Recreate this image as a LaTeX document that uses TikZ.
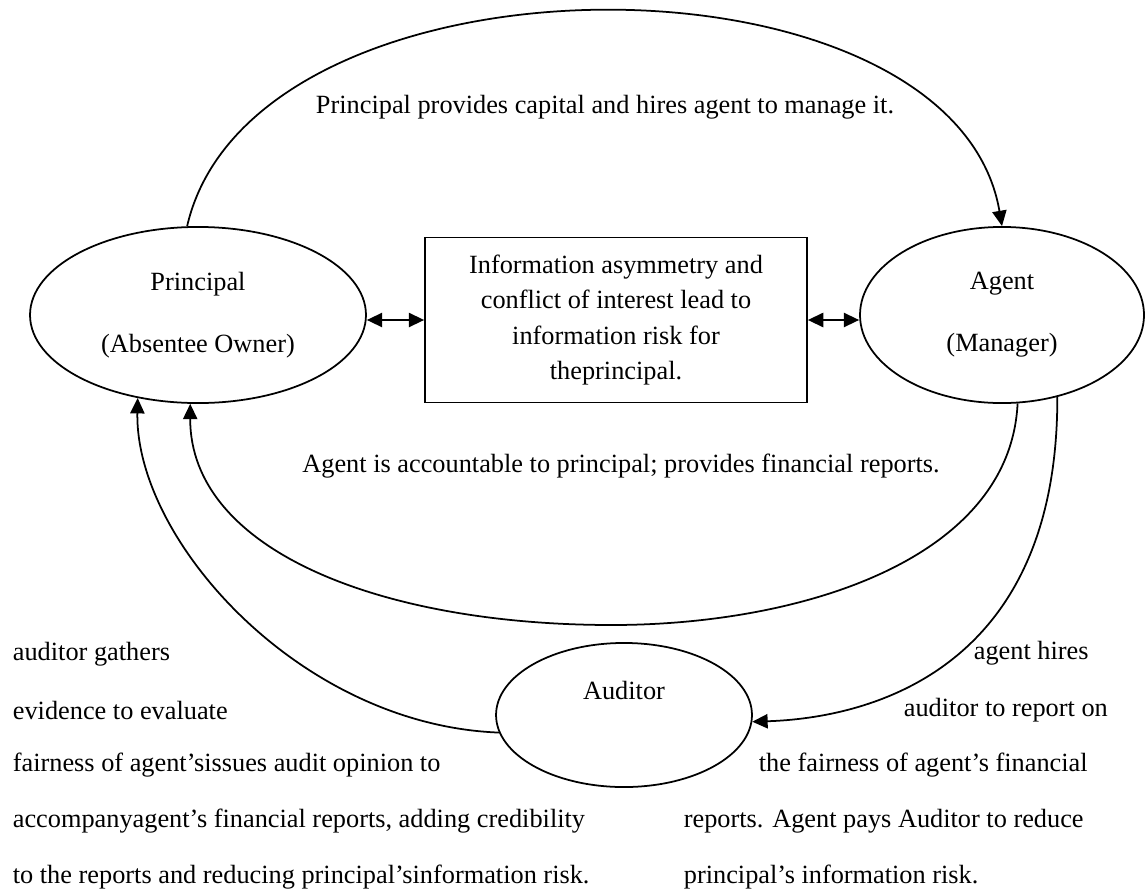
\documentclass[tikz,border=0pt]{standalone}
\usepackage{fontspec}
\setmainfont{Liberation Serif}
\usetikzlibrary{shapes.geometric,arrows.meta}

\begin{document}
\begin{tikzpicture}[x=0.456pt,y=-0.456pt,line width=0.8pt,
		txt/.style={font=\fontsize{12}{14.4}\selectfont,inner sep=0pt},
		oval/.style={draw,ellipse,txt,align=center,minimum height=80.3pt},
		onearrow/.style={-{Triangle[length=7pt,width=6.5pt]}},
		twoarrow/.style={{Triangle[length=7pt,width=6.5pt]}-{Triangle[length=7pt,width=6.5pt]}}]
	\useasboundingbox (0,0) rectangle (1145,895);
	\node[oval,minimum width=153.2pt] (prin) at (198,315) {Principal\\[14pt](Absentee Owner)};
	\node[oval,minimum width=129.5pt] (agent) at (1002,315) {Agent\\[14pt](Manager)};
	\node[oval,minimum width=116.7pt,minimum height=65.7pt] (aud) at (624,715) {};
	\node[txt] (audlbl) at (624,690) {Auditor};
	\node[draw,txt,align=center,minimum width=174.2pt,minimum height=75.2pt,font=\fontsize{12}{16}\selectfont] (risk) at (616,320) {Information asymmetry and\\conflict of interest lead to\\information risk for\\theprincipal.};
	\draw[twoarrow] (prin.east |- risk.west) -- (risk.west);
	\draw[twoarrow] (risk.east) -- (risk.east -| agent.west);
	\draw[onearrow] (prin.97) .. controls (253,-60) and (953,-60) .. (agent.90);
	\node[txt] (toplbl) at (605,107) {Principal provides capital and hires agent to manage it.};
	\draw[onearrow] (agent.-80) .. controls (1010,560) and (800,625) .. (612,625) .. controls (380,625) and (190,550) .. (prin.-95);
	\node[txt] (midlbl) at (621,466) {Agent is accountable to principal; provides financial reports.};
	\draw[onearrow] (agent.-56) .. controls (1058,670) and (870,718) .. (aud.-3);
	\draw[onearrow] (aud.188) .. controls (300,725) and (135,540) .. (prin.-126);
	\node[txt,anchor=west] (l1) at (12,654) {auditor gathers};
	\node[txt,anchor=west] (l2) at (12,710) {evidence to evaluate};
	\node[txt,anchor=west] (l3) at (12,765) {fairness of agent’sissues audit opinion to};
	\node[txt,anchor=west] (l4) at (12,821) {accompanyagent’s financial reports, adding credibility};
	\node[txt,anchor=west] (l5) at (12,877) {to the reports and reducing principal’sinformation risk.};
	\node[txt,anchor=west] (r1) at (973,653) {agent hires};
	\node[txt,anchor=west] (r2) at (903,710) {auditor to report on};
	\node[txt,anchor=west] (r3) at (758,765) {the fairness of agent’s financial};
	\node[txt,anchor=west] (r4) at (683,821) {reports. Agent pays Auditor to reduce};
	\node[txt,anchor=west] (r5) at (683,877) {principal’s information risk.};
\end{tikzpicture}
\end{document}
